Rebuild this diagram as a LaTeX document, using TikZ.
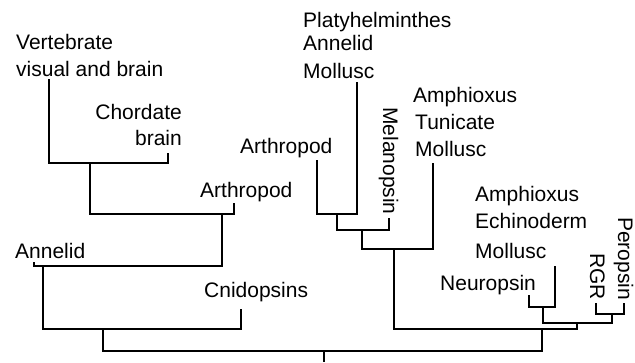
\documentclass[tikz,border=0pt]{standalone}
\usepackage{fontspec}
\setmainfont{Liberation Sans}
\tikzset{
  branch/.style={line width=2pt},
  lab/.style={font=\fontsize{21}{25}\selectfont, inner sep=0pt, anchor=base west},
  labr/.style={lab, anchor=base east},
  vlab/.style={lab, rotate=-90}
}
\begin{document}
\begin{tikzpicture}[x=1pt, y=-1pt]
  \useasboundingbox (0,0) rectangle (635,362);
  % leaf tips
  \coordinate (lVert) at (49, 79);
  \coordinate (lChord) at (168, 153);
  \coordinate (lArth) at (234, 203);
  \coordinate (lAnn) at (34, 262);
  \coordinate (lCnid) at (241, 309);
  \coordinate (rArth) at (317, 160);
  \coordinate (rMoll) at (357, 82);
  \coordinate (rMela) at (389, 218);
  \coordinate (rAmph) at (433, 163);
  \coordinate (rNeur) at (529, 295);
  \coordinate (rEchi) at (555, 266);
  \coordinate (rRGR) at (596, 303);
  \coordinate (rPer) at (624, 303);
  % inner nodes
  \coordinate (a) at (90, 163);
  \coordinate (b) at (222, 214);
  \coordinate (c) at (43, 266);
  \coordinate (d) at (103, 329);
  \coordinate (e) at (337, 214);
  \coordinate (f) at (362, 230);
  \coordinate (g) at (394, 249);
  \coordinate (h) at (543, 307);
  \coordinate (i) at (612, 314);
  \coordinate (j) at (577, 323);
  \coordinate (k) at (542, 329);
  \coordinate (root) at (324, 351);
  \coordinate (base) at (324, 362);

  \draw[branch] (lVert) |- (a) -| (lChord);
  \draw[branch] (a) |- (b) -| (lArth);
  \draw[branch] (lAnn) |- (c) -| (b);
  \draw[branch] (c) |- (d) -| (lCnid);
  \draw[branch] (d) |- (root) -| (k);
  \draw[branch] (root) -- (base);

  \draw[branch] (rArth) |- (e) -| (rMoll);
  \draw[branch] (e) |- (f) -| (rMela);
  \draw[branch] (f) |- (g) -| (rAmph);
  \draw[branch] (g) |- (k) -| (j);
  \draw[branch] (rNeur) |- (h) -| (rEchi);
  \draw[branch] (rRGR) |- (i) -| (rPer);
  \draw[branch] (h) |- (j) -| (i);

  % labels
  \node[lab] (tVert1) at (16, 49) {Vertebrate};
  \node[lab] (tVert2) at (16, 76) {visual and brain};
  \node[labr] (tChord1) at (182, 119) {Chordate};
  \node[labr] (tChord2) at (182, 145) {brain};
  \node[lab] (tArthL) at (200, 197) {Arthropod};
  \node[lab] (tAnnL) at (15, 258) {Annelid};
  \node[lab] (tCnid) at (204, 297) {Cnidopsins};

  \node[lab] (tArthR) at (240, 153) {Arthropod};
  \node[lab] (tPlat) at (303, 27) {Platyhelminthes};
  \node[lab] (tAnnR) at (303, 50) {Annelid};
  \node[lab] (tMollA) at (303, 78) {Mollusc};
  \node[vlab] (tMela) at (383, 107) {Melanopsin};
  \node[lab] (tAmphA) at (413, 102) {Amphioxus};
  \node[lab] (tTuni) at (415, 129) {Tunicate};
  \node[lab] (tMollB) at (415, 156) {Mollusc};

  \node[lab] (tAmphB) at (475, 201) {Amphioxus};
  \node[lab] (tEchi) at (475, 228) {Echinoderm};
  \node[lab] (tMollC) at (475, 258) {Mollusc};
  \node[lab] (tNeur) at (440, 290) {Neuropsin};
  \node[vlab] (tRGR) at (590, 253) {RGR};
  \node[vlab] (tPer) at (618, 217) {Peropsin};
\end{tikzpicture}
\end{document}
